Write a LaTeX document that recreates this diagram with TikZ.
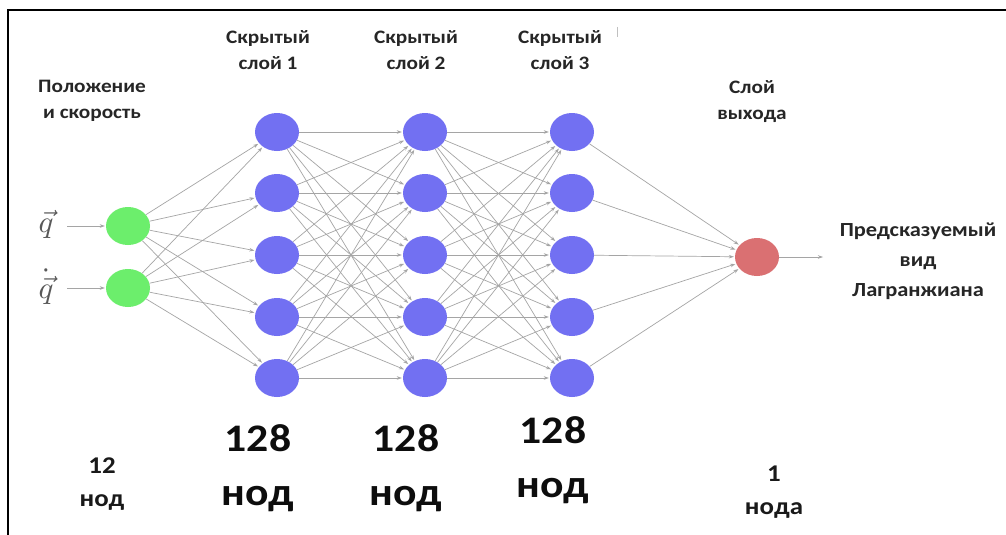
\documentclass[tikz,border=0pt]{standalone}
\usepackage{fontspec}
\setmainfont{Carlito}[FakeStretch=1.12]
\usetikzlibrary{arrows.meta,shapes.geometric}
\definecolor{ingreen}{RGB}{108,238,108}
\definecolor{hidblue}{RGB}{114,112,242}
\definecolor{outred}{RGB}{218,112,114}
\definecolor{edgegrey}{RGB}{165,165,165}
\tikzset{
  neuron/.style={ellipse, minimum width=44pt, minimum height=38pt, inner sep=0pt},
  inneuron/.style={neuron, fill=ingreen},
  hidneuron/.style={neuron, fill=hidblue},
  outneuron/.style={neuron, fill=outred},
  link/.style={draw=edgegrey, line width=0.7pt, -{Stealth[length=5pt,width=3.5pt]}, shorten >=1pt},
  caption/.style={font=\fontsize{19}{26}\selectfont\bfseries, align=center, text=black!85},
  count/.style={font=\fontsize{24}{33}\selectfont\bfseries, align=center, text=black!90},
  bigcount/.style={font=\fontsize{39}{54}\selectfont\bfseries, align=center, text=black!95},
  invar/.style={text=black!65, inner sep=0pt},
}
\begin{document}
\begin{tikzpicture}[x=1pt,y=-1pt]
\useasboundingbox (0,0) rectangle (1006,535);
\fill[white] (0,0) rectangle (1006,535);
% frame lines
\draw[line width=1.6pt] (8,535) -- (8,10) -- (1006,10);

% input layer
\node[inneuron] (i1) at (128,226) {};
\node[inneuron] (i2) at (128,288) {};
% hidden layers
\foreach \l/\x in {1/277,2/425,3/572}{
  \foreach \k/\y in {1/132,2/193,3/255,4/317,5/378}{
    \node[hidneuron] (h\l\k) at (\x,\y) {};
  }
}
% output layer
\node[outneuron] (o) at (757,257) {};

% connections
\foreach \a in {1,2}{\foreach \b in {1,...,5}{\draw[link] (i\a) -- (h1\b);}}
\foreach \a in {1,...,5}{\foreach \b in {1,...,5}{
  \draw[link] (h1\a) -- (h2\b);
  \draw[link] (h2\a) -- (h3\b);
}}
\foreach \a in {1,...,5}{\draw[link] (h3\a) -- (o);}

% inputs and output
\node[invar] (qv) at (46,224) {\scalebox{3.1}{$\vec q$}};
\node[invar] (qd) at (46,287) {\scalebox{3.1}{$\dot{\vec q}$}};
\coordinate (qvs) at (67,226);
\coordinate (qds) at (67,288);
\draw[link] (qvs) -- (i1);
\draw[link] (qds) -- (i2);
\node[caption, font=\fontsize{20}{30}\selectfont\bfseries] (pred) at (918,261) {Предсказуемый\\вид\\Лагранжиана};
\coordinate (oe) at (824,257);
\draw[link] (o) -- (oe);

% captions
\node[caption] (c0) at (92,101) {Положение\\и скорость};
\node[caption] (c1) at (268,50) {Скрытый\\слой 1};
\node[caption] (c2) at (416,50) {Скрытый\\слой 2};
\node[caption] (c3) at (560,50) {Скрытый\\слой 3};
\node[caption] (c4) at (752,102) {Слой\\выхода};
\draw[edgegrey!70, line width=0.6pt] (617,27) -- (617,37);

% node counts
\node[count] (n0) at (102,484) {12\\нод};
\node[bigcount] (n1) at (258,468) {128\\нод};
\node[bigcount] (n2) at (406,468) {128\\нод};
\node[bigcount] (n3) at (553,460) {128\\нод};
\node[count] (n4) at (774,492) {1\\нода};
\end{tikzpicture}
\end{document}
